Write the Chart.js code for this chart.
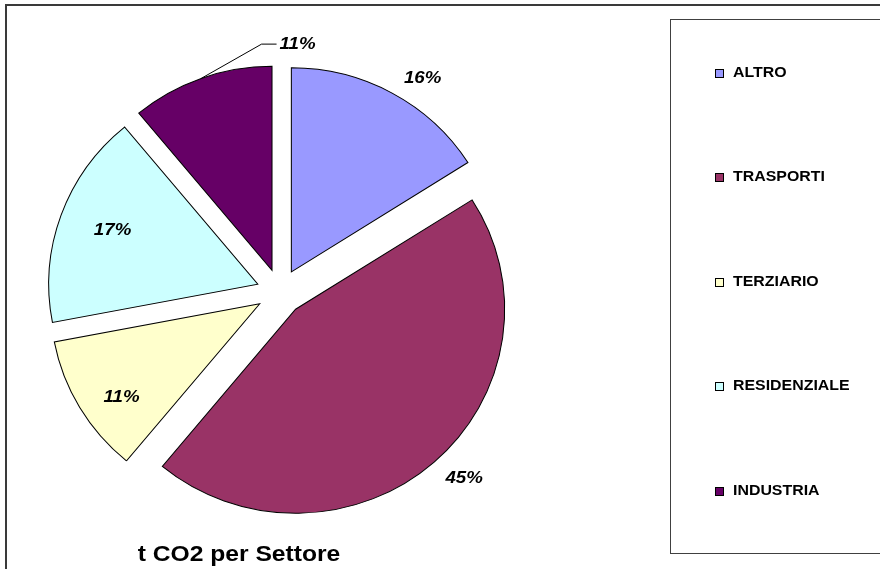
<!DOCTYPE html>
<html lang="it">
<head>
<meta charset="utf-8">
<title>t CO2 per Settore</title>
<script src="https://cdn.jsdelivr.net/npm/chart.js@4/dist/chart.umd.min.js"></script>
<style>
  html, body { margin: 0; padding: 0; background: #ffffff; }
  #wrap { width: 880px; height: 569px; position: relative; }
</style>
</head>
<body>
<div id="wrap"><canvas id="chart" width="880" height="569"></canvas></div>
<script>
// Emissions share by sector (percent of total t CO2)
const sectors = ['ALTRO', 'TRASPORTI', 'TERZIARIO', 'RESIDENZIALE', 'INDUSTRIA'];
const shares = [16, 45, 11, 17, 11];
const sectorColors = ['#9999FF', '#993366', '#FFFFCC', '#CCFFFF', '#660066'];
const chartTitle = 't CO2 per Settore';

const FONT = '"Liberation Sans", Arial, Helvetica, sans-serif';

// Text drawn slightly widened, like the original office-style rendering
function stretchedText(ctx, text, x, y, font, align, sx) {
  ctx.save();
  ctx.font = font;
  ctx.fillStyle = '#000000';
  ctx.textBaseline = 'middle';
  ctx.textAlign = align;
  ctx.translate(x, y);
  ctx.scale(sx, 1);
  ctx.fillText(text, 0, 0);
  ctx.restore();
}

// Frames: outer chart border and the legend box
const framePlugin = {
  id: 'frames',
  beforeDraw(chart) {
    const ctx = chart.ctx;
    ctx.save();
    ctx.fillStyle = '#ffffff';
    ctx.fillRect(0, 0, chart.width, chart.height);
    ctx.strokeStyle = '#3a3a3a';
    ctx.lineWidth = 2;
    ctx.strokeRect(6, 5, chart.width + 20, chart.height + 20);
    ctx.lineWidth = 1;
    ctx.strokeStyle = '#404040';
    ctx.strokeRect(670.5, 19.5, 240, 534);
    ctx.restore();
  }
};

// Every slice pulled out from the centre along its mid angle;
// the pie is a touch wider than tall
const explodePlugin = {
  id: 'explode',
  beforeDatasetDraw(chart, args, opts) {
    const ctx = chart.ctx;
    args.meta.data.forEach(arc => {
      const mid = (arc.startAngle + arc.endAngle) / 2;
      ctx.save();
      ctx.translate(arc.x, arc.y);
      ctx.scale(opts.widen, 1);
      ctx.translate(-arc.x, -arc.y);
      ctx.translate(Math.cos(mid) * opts.distance, Math.sin(mid) * opts.distance);
      arc.draw(ctx);
      ctx.restore();
    });
    return false;
  }
};

// Percentage labels, placed relative to each pulled-out slice
const labelPlugin = {
  id: 'sliceLabels',
  afterDatasetsDraw(chart, args, opts) {
    const ctx = chart.ctx;
    const meta = chart.getDatasetMeta(0);
    const values = chart.data.datasets[0].data;
    const total = values.reduce((a, b) => a + b, 0);
    const ex = chart.options.plugins.explode;
    meta.data.forEach((arc, i) => {
      const mid = (arc.startAngle + arc.endAngle) / 2;
      const cx = arc.x + Math.cos(mid) * ex.distance;
      const cy = arc.y + Math.sin(mid) * ex.distance;
      const p = opts.place[i];
      const ang = mid + p.turn * Math.PI / 180;
      const lx = cx + Math.cos(ang) * arc.outerRadius * p.dist;
      const ly = cy + Math.sin(ang) * arc.outerRadius * p.dist;
      const text = Math.round(values[i] / total * 100) + '%';
      const font = 'italic bold ' + opts.size + 'px ' + FONT;
      stretchedText(ctx, text, lx, ly, font, 'center', opts.stretch);
      if (p.leader) {
        ctx.save();
        ctx.font = font;
        const w = ctx.measureText(text).width * opts.stretch;
        const edgeX = arc.x + (cx + Math.cos(mid) * arc.outerRadius - arc.x) * ex.widen;
        const edgeY = cy + Math.sin(mid) * arc.outerRadius;
        ctx.strokeStyle = '#000000';
        ctx.lineWidth = 1;
        ctx.beginPath();
        ctx.moveTo(edgeX, edgeY);
        ctx.lineTo(lx - w / 2 - 18, ly);
        ctx.lineTo(lx - w / 2 - 3, ly);
        ctx.stroke();
        ctx.restore();
      }
    });
  }
};

// Legend box on the right and the title under the pie
const legendTitlePlugin = {
  id: 'legendTitle',
  afterDraw(chart, args, opts) {
    const ctx = chart.ctx;
    const ds = chart.data.datasets[0];
    chart.data.labels.forEach((label, i) => {
      const y = opts.top + i * opts.step;
      ctx.save();
      ctx.fillStyle = ds.backgroundColor[i];
      ctx.strokeStyle = '#000000';
      ctx.lineWidth = 1;
      ctx.fillRect(opts.x + 0.5, Math.round(y - 4) + 0.5, 8, 8);
      ctx.strokeRect(opts.x + 0.5, Math.round(y - 4) + 0.5, 8, 8);
      ctx.restore();
      stretchedText(ctx, label, opts.x + 18, y, 'bold ' + opts.size + 'px ' + FONT, 'left', 1.06);
    });
    stretchedText(ctx, chartTitle, opts.titleX, opts.titleY,
      'bold ' + opts.titleSize + 'px ' + FONT, 'center', 1.12);
  }
};

new Chart(document.getElementById('chart'), {
  type: 'pie',
  data: {
    labels: sectors,
    datasets: [{
      data: shares,
      backgroundColor: sectorColors,
      borderColor: '#000000',
      borderWidth: 1,
      borderJoinStyle: 'miter',
      offset: 0
    }]
  },
  plugins: [framePlugin, explodePlugin, labelPlugin, legendTitlePlugin],
  options: {
    responsive: false,
    animation: false,
    devicePixelRatio: 1,
    radius: 204,
    layout: { padding: { left: 60, right: 380, top: 40, bottom: 25 } },
    events: [],
    plugins: {
      legend: { display: false },
      title: { display: false },
      tooltip: { enabled: false },
      explode: { distance: 23, widen: 1.025 },
      sliceLabels: {
        size: 17,
        stretch: 1.1,
        place: [
          { dist: 1.147, turn: 5.4 },
          { dist: 1.173, turn: -3.5 },
          { dist: 0.820, turn: -3.4 },
          { dist: 0.762, turn: 0.5 },
          { dist: 1.116, turn: 26.2, leader: true }
        ]
      },
      legendTitle: {
        x: 715, top: 72.5, step: 104.5, size: 15,
        titleX: 239, titleY: 555, titleSize: 22
      }
    }
  }
});
</script>
</body>
</html>
